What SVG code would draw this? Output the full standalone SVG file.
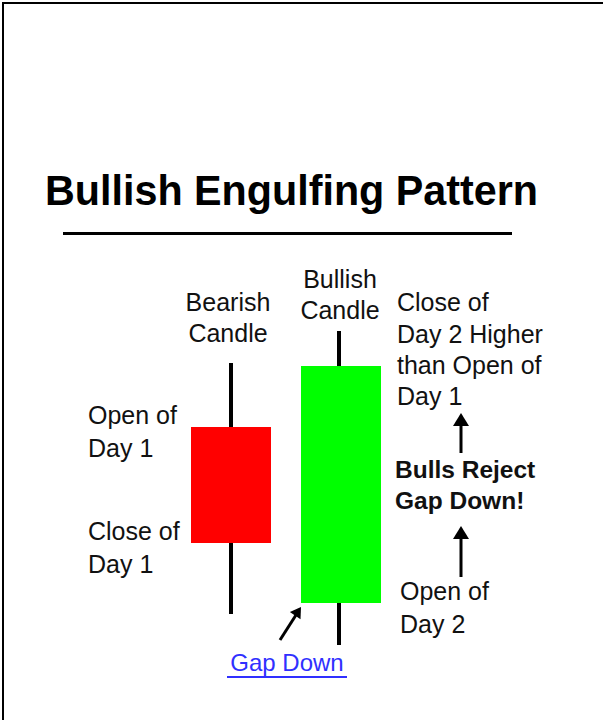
<svg xmlns="http://www.w3.org/2000/svg" width="603" height="720" viewBox="0 0 603 720">
<style>
.lbl{font-family:"Liberation Sans",Arial,sans-serif;font-size:25px;fill:#111}
.bold{font-family:"Liberation Sans",Arial,sans-serif;font-size:24.5px;font-weight:bold;fill:#111}
.wick{stroke:#000;stroke-width:4}
.arr{stroke:#000;stroke-width:3;fill:none}
.head{fill:#000}
</style>
<defs>
<path id="ah" d="M0,0 L8,13 L-8,13 z"/>
</defs>
<rect width="603" height="720" fill="#fff"/>
<rect x="2" y="2" width="601" height="2" fill="#000"/>
<rect x="2" y="2" width="2" height="718" fill="#000"/>
<g id="title">
<text x="45" y="205" font-family="'Liberation Sans',Arial,sans-serif" font-size="43" font-weight="bold" fill="#000" textLength="493" lengthAdjust="spacingAndGlyphs">Bullish Engulfing Pattern</text>
<rect x="63" y="232" width="449" height="3" fill="#000"/>
</g>
<g id="bearish">
<line class="wick" x1="231" y1="363" x2="231" y2="614"/>
<rect x="191" y="427" width="80" height="116" fill="#ff0000"/>
<text class="lbl" x="228" y="311" text-anchor="middle">Bearish</text>
<text class="lbl" x="228" y="342" text-anchor="middle">Candle</text>
</g>
<g id="bullish">
<line class="wick" x1="339" y1="331" x2="339" y2="645"/>
<rect x="301" y="366" width="80" height="237" fill="#00ff00"/>
<text class="lbl" x="340" y="288" text-anchor="middle">Bullish</text>
<text class="lbl" x="340" y="319" text-anchor="middle">Candle</text>
</g>
<g id="left-labels">
<text class="lbl" x="88" y="424">Open of</text>
<text class="lbl" x="88" y="457">Day 1</text>
<text class="lbl" x="88" y="540">Close of</text>
<text class="lbl" x="88" y="573">Day 1</text>
</g>
<g id="right-labels">
<text class="lbl" x="397" y="311">Close of</text>
<text class="lbl" x="397" y="343">Day 2 Higher</text>
<text class="lbl" x="397" y="374">than Open of</text>
<text class="lbl" x="397" y="405">Day 1</text>
<text class="bold" x="395" y="478">Bulls Reject</text>
<text class="bold" x="395" y="509">Gap Down!</text>
<text class="lbl" x="400" y="600">Open of</text>
<text class="lbl" x="400" y="633">Day 2</text>
</g>
<g id="connectors">
<line class="arr" x1="461" y1="453" x2="461" y2="422"/>
<use href="#ah" class="head" transform="translate(461,413)"/>
<line class="arr" x1="461" y1="577" x2="461" y2="535"/>
<use href="#ah" class="head" transform="translate(461,526)"/>
<line class="arr" x1="280" y1="640" x2="296" y2="615"/>
<use href="#ah" class="head" transform="translate(301,607) rotate(34) scale(0.8)"/>
</g>
<g id="gap-down">
<text x="287" y="671" text-anchor="middle" font-family="'Liberation Sans',Arial,sans-serif" font-size="24" fill="#3030ff">Gap Down</text>
<rect x="227" y="676" width="120" height="2" fill="#3030ff"/>
</g>
</svg>
